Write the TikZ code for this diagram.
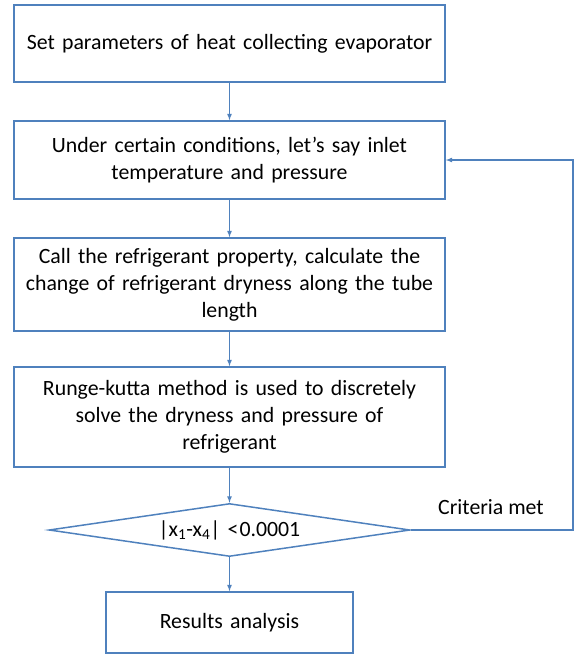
\documentclass[tikz,border=0pt]{standalone}
\usepackage{fontspec}
\setmainfont{Carlito}
\usepackage{tikz}
\usetikzlibrary{arrows,shapes.geometric,calc}
\definecolor{flowblue}{RGB}{79,129,189}

\begin{document}
\begin{tikzpicture}[x=1pt,y=-1pt,
    stepbox/.style={draw=flowblue,line width=1.5pt,rectangle,minimum width=431pt,align=center,text width=425pt,inner sep=0pt,font=\fontsize{21.8}{27}\selectfont},
    check/.style={draw=flowblue,line width=1.5pt,diamond,minimum width=361pt,minimum height=53pt,aspect=6.8,inner sep=0pt,font=\fontsize{21.8}{27}\selectfont},
    flow/.style={draw=flowblue,line width=1.2pt,-latex}]
      \useasboundingbox (0,0) rectangle (574,657);
      \node[stepbox,minimum height=77pt] (setpar) at (229.5,43.5) {Set parameters of heat collecting evaporator};
      \node[stepbox,minimum height=78pt] (inlet) at (229.5,160) {Under certain conditions, let’s say inlet\\ temperature and pressure};
      \node[stepbox,minimum height=93pt] (dryness) at (229.5,284.5) {Call the refrigerant property, calculate the\\ change of refrigerant dryness along the tube\\ length};
      \node[stepbox,minimum height=100pt] (rk) at (229.5,417) {Runge-kutta method is used to discretely\\ solve the dryness and pressure of\\ refrigerant};
      \node[check] (crit) at (229.5,530) {|x\textsubscript{1}-x\textsubscript{4}|\,\,<\hspace{1pt}0.0001};
      \node[stepbox,minimum width=247pt,text width=230pt,minimum height=61pt] (result) at (229.5,622.5) {Results analysis};
      \node[font=\fontsize{21.8}{27}\selectfont] (met) at (491,507) {Criteria met};
      \coordinate (loop) at (573,0);

      \draw [flow] (setpar) to (inlet);
      \draw [flow] (inlet) to (dryness);
      \draw [flow] (dryness) to (rk);
      \draw [flow] (rk) to (crit);
      \draw [flow] (crit) to (result);
      \draw [flow] (crit.east) -- (crit.east -| loop) |- (inlet.east);
    \end{tikzpicture}
\end{document}
